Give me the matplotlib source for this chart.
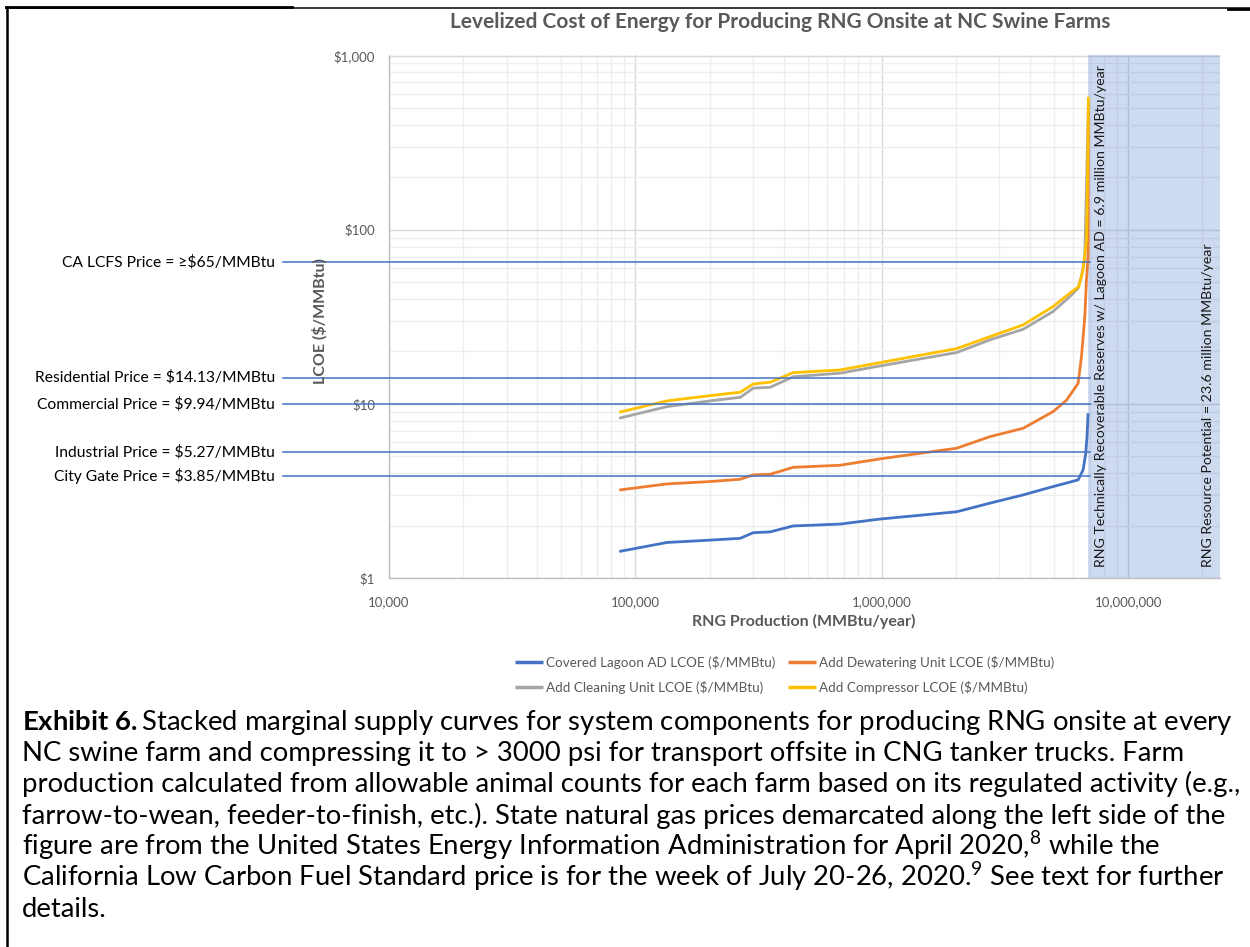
import numpy as np
import matplotlib
matplotlib.use("Agg")
import matplotlib.pyplot as plt
from matplotlib.lines import Line2D
from matplotlib.ticker import LogLocator, NullFormatter, FixedLocator, FixedFormatter

plt.rcParams['font.family'] = ['Lato', 'DejaVu Sans']
plt.rcParams['mathtext.fontset'] = 'custom'
plt.rcParams['mathtext.rm'] = 'Lato'
plt.rcParams['mathtext.bf'] = 'Lato:bold'
plt.rcParams['mathtext.it'] = 'Lato:italic'

# ---------------- data ----------------
lagoon_x = [86000, 134500, 201400, 266500, 300800, 352500, 437000, 677500, 984000,
            2014000, 2748000, 3750000, 4960000, 5623000, 6266000, 6563000, 6731000,
            6811000, 6880000]
lagoon_y = [1.42, 1.60, 1.65, 1.69, 1.82, 1.84, 1.99, 2.04, 2.18,
            2.40, 2.69, 3.00, 3.35, 3.51, 3.66, 4.17, 5.20,
            6.48, 8.83]

dewater_x = [86000, 134500, 201400, 266500, 300800, 352500, 437000, 677500, 984000,
             2014000, 2748000, 3750000, 4960000, 5623000, 6266000, 6467000, 6672000,
             6776000, 6878000, 6900000]
dewater_y = [3.20, 3.47, 3.58, 3.69, 3.91, 3.94, 4.32, 4.44, 4.83,
             5.56, 6.48, 7.24, 9.02, 10.5, 13.1, 18.7, 31.7,
             51.5, 70.1, 480]

cleaning_x = [86000, 134500, 201400, 266500, 300800, 352500, 437000, 677500, 984000,
              2014000, 2748000, 3750000, 4960000, 5800000, 6266000, 6467000, 6672000,
              6900000]
cleaning_y = [8.27, 9.64, 10.4, 10.9, 12.3, 12.45, 14.3, 15.0, 16.5,
              19.7, 23.3, 26.8, 33.9, 41.3, 46.1, 53.8, 70.1,
              540]

compressor_x = [86000, 134500, 201400, 266500, 300800, 352500, 437000, 677500, 984000,
                2014000, 2748000, 3750000, 4960000, 5800000, 6306000, 6563000, 6776000,
                6855000, 6900000]
compressor_y = [8.95, 10.4, 11.15, 11.66, 13.0, 13.3, 15.1, 15.65, 17.25,
                20.75, 24.3, 28.4, 36.2, 43.2, 47.1, 58.8, 87.4,
                252, 579]

series_labels = ["Covered Lagoon AD LCOE ($/MMBtu)", "Add Dewatering Unit LCOE ($/MMBtu)",
                 "Add Cleaning Unit LCOE ($/MMBtu)", "Add Compressor LCOE ($/MMBtu)"]
series_colors = ["#4472C4", "#ED7D31", "#A5A5A5", "#FFC000"]

price_values = [65, 14.13, 9.94, 5.27, 3.85]
price_labels = ["CA LCFS Price = \u2265$65/MMBtu", "Residential Price = $14.13/MMBtu",
                "Commercial Price = $9.94/MMBtu", "Industrial Price = $5.27/MMBtu",
                "City Gate Price = $3.85/MMBtu"]

reserves_tech = 6.9e6
resource_potential = 23.6e6

x_ticks = [1e4, 1e5, 1e6, 1e7]
x_tick_labels = ["10,000", "100,000", "1,000,000", "10,000,000"]
y_ticks = [1, 10, 100, 1000]
y_tick_labels = ["$1", "$10", "$100", "$1,000"]

title = "Levelized Cost of Energy for Producing RNG Onsite at NC Swine Farms"
xlabel = "RNG Production (MMBtu/year)"
ylabel = "LCOE ($/MMBtu)"
tech_text = "RNG Technically Recoverable Reserves w/ Lagoon AD = 6.9 million MMBtu/year"
pot_text = "RNG Resource Potential = 23.6 million MMBtu/year"

caption_lines = [
    r"$\mathbf{Exhibit\ 6.}$Stacked marginal supply curves for system components for producing RNG onsite at every",
    "NC swine farm and compressing it to > 3000 psi for transport offsite in CNG tanker trucks. Farm",
    "production calculated from allowable animal counts for each farm based on its regulated activity (e.g.,",
    "farrow-to-wean, feeder-to-finish, etc.). State natural gas prices demarcated along the left side of the",
    r"figure are from the United States Energy Information Administration for April 2020,$^{\mathrm{8}}$ while the",
    r"California Low Carbon Fuel Standard price is for the week of July 20-26, 2020.$^{\mathrm{9}}$ See text for further",
    "details.",
]

# ---------------- figure ----------------
W, H = 1250, 947
fig = plt.figure(figsize=(W / 100, H / 100), dpi=100)
renderer = fig.canvas.get_renderer()

def fx(px):
    return px / W

def fy(py):
    return 1 - py / H

def esc(s):
    return s.replace("$", r"\$")

ax = fig.add_axes([fx(389), fy(578), (1220 - 389) / W, (578 - 55.5) / H])
ax.set_xscale('log')
ax.set_yscale('log')
ax.set_xlim(1e4, resource_potential)
ax.set_ylim(1, 1000)

ax.xaxis.set_major_locator(FixedLocator(x_ticks))
ax.xaxis.set_major_formatter(FixedFormatter(x_tick_labels))
ax.yaxis.set_major_locator(FixedLocator(y_ticks))
ax.yaxis.set_major_formatter(FixedFormatter([esc(s) for s in y_tick_labels]))
ax.xaxis.set_minor_locator(LogLocator(base=10, subs=np.arange(2, 10), numticks=30))
ax.yaxis.set_minor_locator(LogLocator(base=10, subs=np.arange(2, 10), numticks=30))
ax.xaxis.set_minor_formatter(NullFormatter())
ax.yaxis.set_minor_formatter(NullFormatter())

ax.set_axisbelow(True)
ax.grid(which='major', color='#D9D9D9', lw=1.0)
ax.grid(which='minor', color='#EEEEEE', lw=1.0)
ax.tick_params(which='both', length=0, labelsize=9.5, labelcolor='#595959')
ax.tick_params(axis='x', pad=13)
ax.tick_params(axis='y', pad=10)
for s in ['top', 'right']:
    ax.spines[s].set_visible(False)
for s in ['left', 'bottom']:
    ax.spines[s].set_color('#BFBFBF')
    ax.spines[s].set_linewidth(1.0)

# shaded resource region
ax.axvspan(reserves_tech, resource_potential, color='#4472C4', alpha=0.26, lw=0, zorder=1.5)

# curves
handles = []
for xs, ys, lab, col in zip([lagoon_x, dewater_x, cleaning_x, compressor_x],
                            [lagoon_y, dewater_y, cleaning_y, compressor_y],
                            series_labels, series_colors):
    h, = ax.plot(xs, ys, color=col, lw=2.0, label=esc(lab), zorder=2,
                 solid_capstyle='butt')
    handles.append(h)

# price lines and labels
line_start = 3.7e3
line_end = 7.0e6
for v, lab in zip(price_values, price_labels):
    ax.plot([line_start, line_end], [v, v], color='#4472C4', lw=1.1, clip_on=False, zorder=3)
    ax.text(-0.137, v, esc(lab), transform=ax.get_yaxis_transform(), ha='right',
            va='center', fontsize=10.5, color='black')

def fit_width(t, target):
    for _ in range(3):
        w = t.get_window_extent(renderer).width
        t.set_fontsize(t.get_fontsize() * target / w)

def fit_height(t, target):
    for _ in range(3):
        h = t.get_window_extent(renderer).height
        t.set_fontsize(t.get_fontsize() * target / h)

# fit price label size using the residential label
price_texts = [t for t in ax.texts]
fit_width(price_texts[1], 240)
for t in price_texts:
    t.set_fontsize(price_texts[1].get_fontsize())

# rotated texts in the shaded region
t1 = fig.text(fx(1101), fy(567), tech_text, rotation=90, ha='center', va='bottom',
              fontsize=10.5, color='#1a1a1a')
fit_height(t1, 503)
t2 = fig.text(fx(1208), fy(567), pot_text, rotation=90, ha='center', va='bottom',
              fontsize=t1.get_fontsize(), color='#1a1a1a')

# title and axis labels
tt = fig.text(fx(780), fy(22), title, ha='center', va='center', fontsize=13.5,
              fontweight='bold', color='#595959')
fit_width(tt, 656)
xl = fig.text(fx(804), fy(621), xlabel, ha='center', va='center', fontsize=10.5,
              fontweight='bold', color='#595959')
fit_width(xl, 224)
yl = fig.text(fx(320), fy(321), esc(ylabel), ha='center', va='center', rotation=90,
              fontsize=xl.get_fontsize(), fontweight='bold', color='#595959')

# legend
leg_fs = 9.7
fs_px = leg_fs * 100 / 72
leg = fig.legend([handles[0], handles[2], handles[1], handles[3]],
                 [esc(series_labels[0]), esc(series_labels[2]),
                  esc(series_labels[1]), esc(series_labels[3])],
                 ncol=2, loc='center', bbox_to_anchor=(fx(784.5), fy(675)),
                 frameon=False, fontsize=leg_fs, labelcolor='#595959',
                 handlelength=28 / fs_px, handletextpad=3 / fs_px,
                 columnspacing=13 / fs_px, labelspacing=0.9, borderpad=0)
for lh in leg.get_lines():
    lh.set_linewidth(2.5)

# caption
cap_texts = []
for i, line in enumerate(caption_lines):
    t = fig.text(fx(22), fy(730 + i * 31.2), line, ha='left', va='baseline',
                 fontsize=16, color='black')
    cap_texts.append(t)
fit_width(cap_texts[2], 1218)
for t in cap_texts:
    t.set_fontsize(cap_texts[2].get_fontsize())

# page border
fig.add_artist(Line2D([fx(7), fx(7)], [fy(7), 0], color='black', lw=1.8,
                      transform=fig.transFigure))
fig.add_artist(Line2D([fx(6), fx(1250)], [fy(8), fy(8)], color='black', lw=1.1,
                      transform=fig.transFigure))
fig.add_artist(Line2D([fx(6), fx(292)], [fy(7.5), fy(7.5)], color='black', lw=2.0,
                      transform=fig.transFigure))
fig.add_artist(Line2D([fx(1228), fx(1250)], [fy(9), fy(9)], color='black', lw=2.0,
                      transform=fig.transFigure))

fig.savefig("out.png", dpi=100)
